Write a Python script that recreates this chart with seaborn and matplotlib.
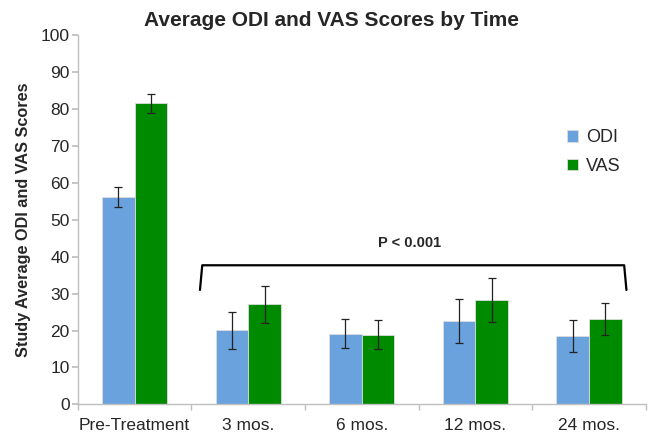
import matplotlib
matplotlib.use("Agg")
import matplotlib.pyplot as plt
import seaborn as sns
import pandas as pd
import numpy as np

categories = ["Pre-Treatment", "3 mos.", "6 mos.", "12 mos.", "24 mos."]
odi_mean = [56.3, 20.1, 19.2, 22.5, 18.6]
odi_err = [2.7, 5.0, 4.0, 6.0, 4.3]
vas_mean = [81.6, 27.1, 18.9, 28.3, 23.1]
vas_err = [2.6, 5.0, 3.9, 5.9, 4.4]
series = ["ODI", "VAS"]
colors = {"ODI": "#69a2dc", "VAS": "#008a00"}

df = pd.DataFrame({
    "Time": categories * 2,
    "Measure": ["ODI"] * len(categories) + ["VAS"] * len(categories),
    "Score": odi_mean + vas_mean,
    "Err": odi_err + vas_err,
})

sns.set_theme(style="white")
plt.rcParams["font.family"] = ["Liberation Sans", "DejaVu Sans"]

fig = plt.figure(figsize=(6.49, 4.32), dpi=100)
ax = fig.add_axes([0.120, 0.064, 0.875, 0.854])

sns.barplot(data=df, x="Time", y="Score", hue="Measure", order=categories,
            hue_order=series, palette=colors, width=0.575, errorbar=None,
            edgecolor="#dddddd", linewidth=0.6, saturation=1, ax=ax)

# error bars at bar centres, taken from the drawn bars
bars = [p for p in ax.patches if p.get_height() > 0]
lookup = {}
for means, errs in [(odi_mean, odi_err), (vas_mean, vas_err)]:
    for v, e in zip(means, errs):
        lookup[round(v, 3)] = e
xs = [p.get_x() + p.get_width() / 2 for p in bars]
hs = [p.get_height() for p in bars]
es = [lookup[round(h, 3)] for h in hs]
ax.errorbar(xs, hs, yerr=es, fmt="none", ecolor="#222222", elinewidth=0.9,
            capsize=3, capthick=0.9)

ax.set_ylim(0, 100)
ax.set_xlim(-0.5, len(categories) - 0.5)
ax.set_yticks(np.arange(0, 101, 10))
ax.tick_params(axis="y", which="major", direction="out", length=4, color="#bfbfbf",
               labelsize=12.5, pad=2, left=True)
ax.set_xticks(np.arange(len(categories)))
ax.set_xticklabels(categories)
ax.set_xticks(np.arange(len(categories) + 1) - 0.5, minor=True)
ax.tick_params(axis="x", which="major", length=0, labelsize=12.5, pad=10)
ax.tick_params(axis="x", which="minor", direction="out", length=4, color="#bfbfbf", bottom=True)
for s in ["top", "right"]:
    ax.spines[s].set_visible(False)
for s in ["left", "bottom"]:
    ax.spines[s].set_color("#bfbfbf")
    ax.spines[s].set_linewidth(1)

ax.set_xlabel("")
ax.set_ylabel("Study Average ODI and VAS Scores", fontsize=11.7, fontweight="bold", labelpad=7)
fig.suptitle("Average ODI and VAS Scores by Time", fontsize=15, fontweight="bold",
             x=0.511, y=0.975)

# bracket for significance
x_left, x_right = 0.575, 4.33
y_top, y_bot = 37.7, 31.0
ax.plot([x_left, x_left + 0.02, x_right - 0.02, x_right],
        [y_bot, y_top, y_top, y_bot], color="black", lw=1.6, solid_joinstyle="round")
ax.text(2.42, 43.6, "P < 0.001", ha="center", va="center", fontsize=10.5, fontweight="bold")

leg = ax.legend(loc="upper left", bbox_to_anchor=(0.833, 0.79), frameon=False,
                fontsize=13, handlelength=0.6, handleheight=0.6, handletextpad=0.45,
                labelspacing=0.65)

fig.savefig("out.png", dpi=100)
